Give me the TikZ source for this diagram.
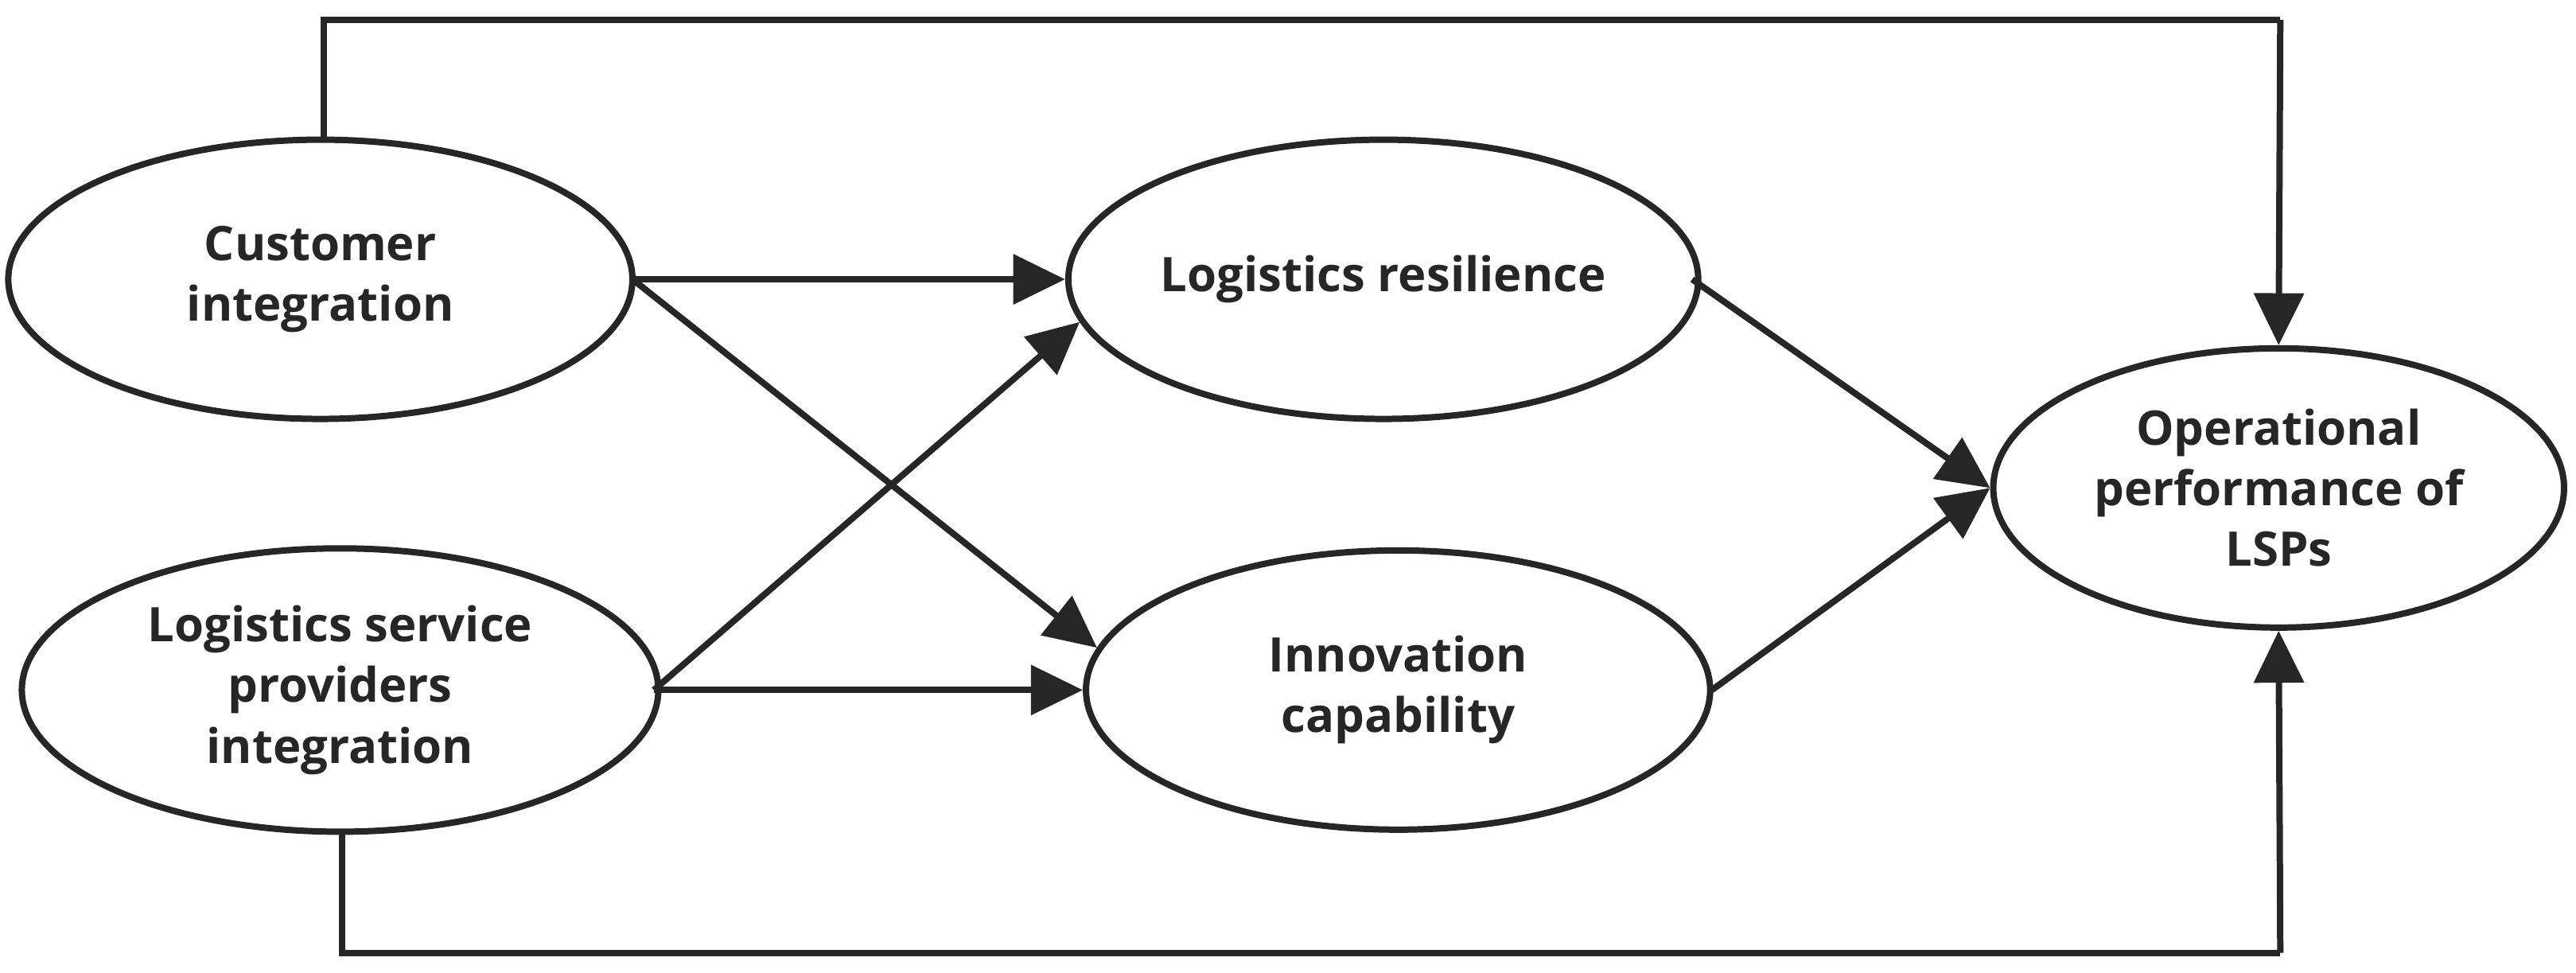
\documentclass[tikz,border=0pt]{standalone}
\usepackage{fontspec}
\setmainfont{Open Sans}
\usetikzlibrary{shapes.geometric,arrows.meta}
\begin{document}
\begin{tikzpicture}[x=0.02cm,y=-0.02cm,
  ell/.style={draw=black!85,line width=2.2pt,ellipse,inner sep=0pt,align=center,font=\fontsize{16.5}{21}\selectfont\bfseries,text=black!85},
  arr/.style={draw=black!85,line width=2.2pt,-{Triangle[length=18pt,width=17pt]}},
  ln/.style={draw=black!85,line width=2.2pt}]
\useasboundingbox (0,0) rectangle (1568,592);
\node[ell,minimum width=7.6cm,minimum height=3.4cm] (ci) at (195,170) {Customer\\integration};
\node[ell,minimum width=7.75cm,minimum height=3.45cm] (lsp) at (207,420) {Logistics service\\providers\\integration};
\node[ell,minimum width=7.6cm,minimum height=3.4cm] (lr) at (842,170) {Logistics resilience};
\node[ell,minimum width=7.6cm,minimum height=3.4cm] (ic) at (851,420) {Innovation\\capability};
\node[ell,minimum width=6.95cm,minimum height=3.4cm] (op) at (1387,297) {Operational\\performance of\\LSPs};
\coordinate (a1) at (385,170);
\coordinate (a2) at (398,420);
\draw[arr] (a1) -- (lr.west);
\draw[arr] (a1) -- (ic.172);
\draw[arr] (a2) -- (lr.188);
\draw[arr] (a2) -- (ic.west);
\draw[arr] (1030,170) -- (op.west);
\draw[arr] (1042,420) -- (op.west);
\draw[ln] (197,86) |- (1388,12) coordinate (t);
\draw[arr] (t) -- (op.north);
\draw[ln] (208,506) |- (1388,580) coordinate (b);
\draw[arr] (b) -- (op.south);
\end{tikzpicture}
\end{document}
